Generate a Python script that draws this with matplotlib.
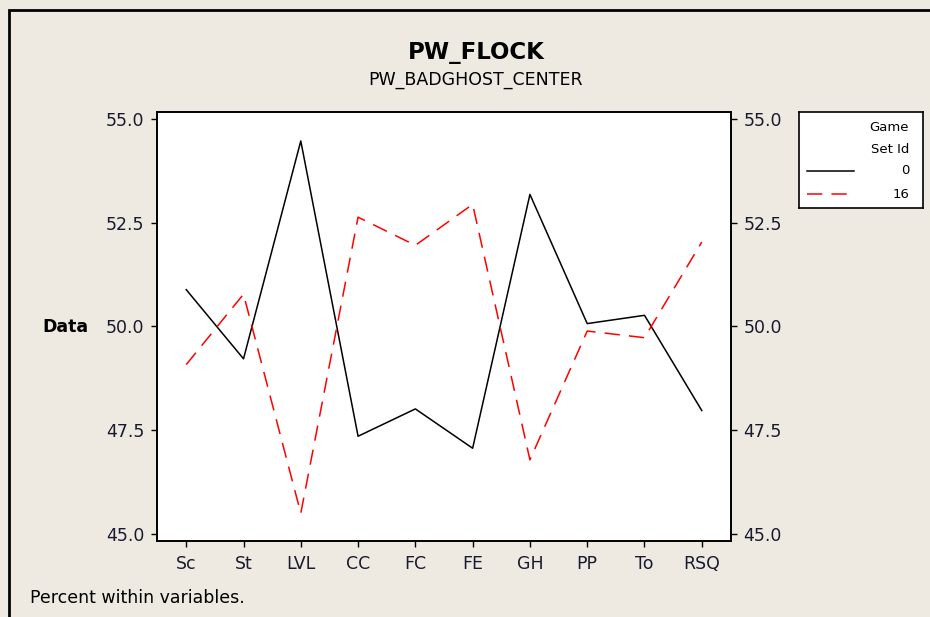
import numpy as np
import matplotlib
matplotlib.use('Agg')
import matplotlib.pyplot as plt
from matplotlib.patches import Rectangle
from matplotlib.lines import Line2D

# data
variables = ['Sc', 'St', 'LVL', 'CC', 'FC', 'FE', 'GH', 'PP', 'To', 'RSQ']
set0 = [50.89, 49.22, 54.48, 47.35, 48.01, 47.06, 53.19, 50.07, 50.27, 47.97]
set16 = [49.08, 50.78, 45.49, 52.64, 51.96, 52.95, 46.78, 49.89, 49.73, 52.04]
set_ids = ['0', '16']
yticks = [45.0, 47.5, 50.0, 52.5, 55.0]

bg = '#EEEAE1'
red_dash = (10, 6)
plt.rcParams['font.family'] = 'DejaVu Sans'

fig = plt.figure(figsize=(9.3, 6.17), dpi=100)
fig.patch.set_facecolor(bg)

# outer frame (only top and left visible)
fig.add_artist(Rectangle((9 / 930, -0.5), 2, 0.5 + 1 - 9.5 / 617, transform=fig.transFigure,
                         fill=False, edgecolor='black', lw=2))

ax = fig.add_axes([157 / 930, 1 - 541 / 617, (731 - 157) / 930, (541 - 112) / 617])
ax.set_facecolor('white')
x = np.arange(len(variables))
l0, = ax.plot(x, set0, color='black', lw=1.1, label=set_ids[0])
l1, = ax.plot(x, set16, color='#FF0000', lw=1.1, dashes=red_dash, label=set_ids[1])

ax.set_xlim(-0.51, 9.51)
ax.set_ylim(44.82, 55.18)
ax.set_xticks(x)
ax.set_xticklabels(variables)
ax.set_yticks(yticks)
ax.set_yticklabels(['%.1f' % v for v in yticks])
ax.tick_params(axis='both', direction='out', length=4, width=1, labelsize=12.5,
               labelcolor='#1a1a2e', pad=5)
ax.tick_params(axis='y', right=True, labelright=True)
ax.tick_params(axis='x', pad=6)
for s in ax.spines.values():
    s.set_linewidth(1.4)

ax.set_ylabel('Data', rotation=0, fontweight='bold', fontsize=12.5, ha='right', va='center')
ax.yaxis.set_label_coords(-0.119, 0.5)

fig.text(476 / 930, 1 - 52 / 617, 'PW_FLOCK', ha='center', va='center',
         fontsize=16.5, fontweight='bold')
fig.text(476 / 930, 1 - 80 / 617, 'PW_BADGHOST_CENTER', ha='center', va='center',
         fontsize=12.5)
fig.text(30 / 930, 1 - 598 / 617, 'Percent within variables.', ha='left', va='center',
         fontsize=12.5)

# legend box
lax = fig.add_axes([799 / 930, 1 - 208 / 617, (923 - 799) / 930, (208 - 112) / 617])
lax.set_facecolor('white')
lax.set_xticks([])
lax.set_yticks([])
lax.set_xlim(0, 124)
lax.set_ylim(96, 0)
for s in lax.spines.values():
    s.set_linewidth(1.2)
lax.text(110, 15, 'Game', ha='right', va='center', fontsize=9.5)
lax.text(110, 37, 'Set Id', ha='right', va='center', fontsize=9.5)
for i, ln in enumerate([l0, l1]):
    yy = 59 + 23 * i
    seg = Line2D([8, 55], [yy, yy], color=ln.get_color(), lw=ln.get_linewidth())
    if i == 1:
        seg.set_dashes(red_dash)
    lax.add_line(seg)
    lax.text(110, yy, ln.get_label(), ha='right', va='center', fontsize=9.5)

fig.savefig('out.png', dpi=100, facecolor=bg)
